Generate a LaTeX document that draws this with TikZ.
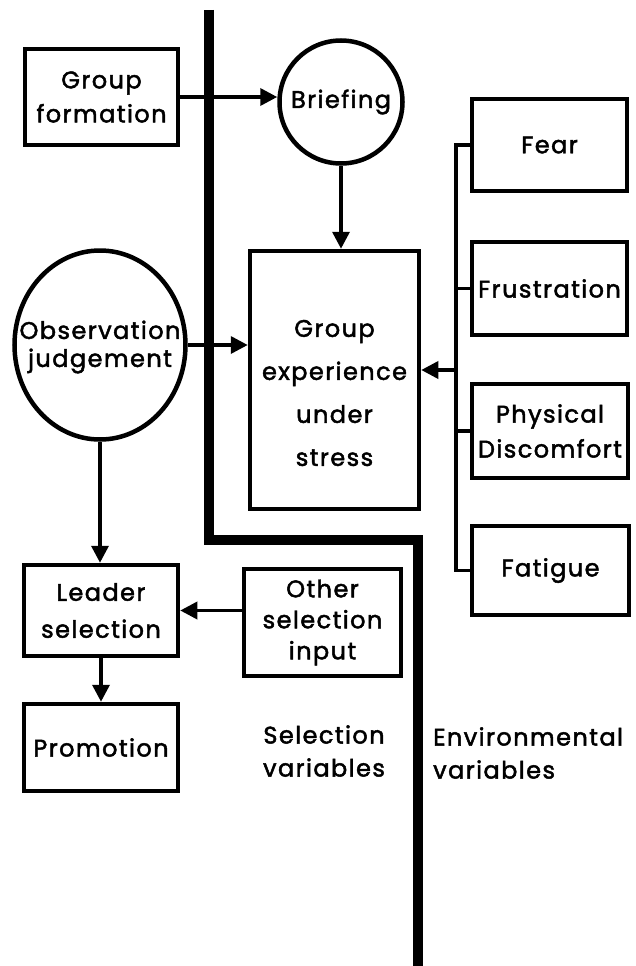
\documentclass[tikz,border=0pt]{standalone}
\usepackage{fontspec}
\setmainfont{Poppins}[LetterSpace=6,FakeBold=2]
\usetikzlibrary{shapes.geometric,arrows.meta}
\begin{document}
\begin{tikzpicture}[x=1pt,y=-1pt,
  lbl/.style={font=\fontsize{24}{33}\selectfont, align=center, inner sep=0pt},
  box/.style={draw, line width=4.5pt, inner sep=0pt, lbl},
  conn/.style={line width=3.5pt},
  arr/.style={conn, -{Triangle[length=17pt,width=17pt]}},
  mainline/.style={line width=10.5pt}
]
\useasboundingbox (0,0) rectangle (636,966);
% nodes
\node[box, minimum width=153pt, minimum height=96pt, font=\fontsize{24}{34}\selectfont] (gf) at (101.5,97) {Group\\formation};
\node[box, circle, minimum size=123pt] (brief) at (341,102) {};
\node[lbl] (brieftext) at (brief.center) {Briefing};
\node[box, minimum width=169pt, minimum height=258pt] (gexp) at (334.5,380) {};
\node[lbl, font=\fontsize{24}{43}\selectfont] (gexptext) at (334.5,393) {Group\\experience\\under\\stress};
\node[box, ellipse, minimum width=171pt, minimum height=189pt] (obs) at (100,345) {};
\node[lbl, font=\fontsize{24}{28}\selectfont] (obstext) at (100,347) {Observation\\judgement};
\node[box, minimum width=155pt, minimum height=92pt] (fear) at (549.5,145) {Fear};
\node[box, minimum width=155pt, minimum height=93pt] (frust) at (549.5,288.5) {Frustration};
\node[box, minimum width=156pt, minimum height=94pt, font=\fontsize{24}{35}\selectfont] (phys) at (550,431) {Physical\\Discomfort};
\node[box, minimum width=157pt, minimum height=89pt] (fat) at (550.5,570.5) {Fatigue};
\node[box, minimum width=154pt, minimum height=91pt, font=\fontsize{24}{37}\selectfont] (leader) at (101,610.5) {Leader\\selection};
\node[box, minimum width=154pt, minimum height=87pt] (promo) at (101,747.5) {Promotion};
\node[box, minimum width=157pt, minimum height=107pt, font=\fontsize{24}{31}\selectfont] (other) at (322.5,622.5) {Other\\selection\\input};
\node[lbl] (selvar) at (324,751) {Selection\\variables};
\node[lbl, align=left, anchor=west] (envvar) at (433,753) {Environmental\\variables};
% main thick line
\coordinate (mtop) at (209,10);
\coordinate (mc1) at (209,540);
\coordinate (mc2) at (418,540);
\coordinate (mbot) at (418,966);
\draw[mainline] (mtop) -- (mc1) -- (mc2) -- (mbot);
% connectors
\draw[arr] (gf.east) -- (gf.east -| brief.west);
\draw[arr] (brief.south) -- (brief.south |- gexp.north);
\draw[arr] (obs.east) -- (obs.east -| gexp.west);
\draw[arr] (obs.south) -- (obs.south |- leader.north);
\draw[arr] (leader.south) -- (promo.north);
\draw[arr] (other.west |- leader.east) -- (leader.east);
% environmental bus
\coordinate (busTop) at (456,145);
\coordinate (busArr) at (456,370);
\draw[conn] (fear.west) -- (busTop) |- (fat.west);
\draw[conn] (frust.west) -- (frust.west -| busTop);
\draw[conn] (phys.west) -- (phys.west -| busTop);
\draw[arr] (busArr) -- (busArr -| gexp.east);
\end{tikzpicture}
\end{document}
